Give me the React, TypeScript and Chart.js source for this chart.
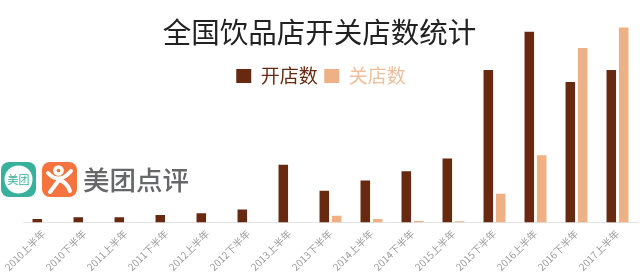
import React, { useEffect, useRef } from "react";
import { Chart, registerables } from "chart.js";

Chart.register(...registerables);

const categories = ["2010上半年","2010下半年","2011上半年","2011下半年","2012上半年","2012下半年","2013上半年","2013下半年","2014上半年","2014下半年","2015上半年","2015下半年","2016上半年","2016下半年","2017上半年"];
const openedStores = [3.6,5.3,5.3,7.5,9.3,13,57.7,31.7,42,51,63.7,152,190,140,152];
const closedStores = [0,0,0,0,0,0,0,6.7,3.7,1.5,1.3,28.7,67,173.7,194.3];
const titleText = "全国饮品店开关店数统计";
const openLabel = "开店数";
const closedLabel = "关店数";
const logoText = "美团点评";
const logoBadge = "美团";

const DARK = "#67290f";
const LIGHT = "#efb184";
const CJK = '"Noto Sans CJK SC", "Noto Sans", sans-serif';
const LEGEND_TOP = 60;
const TITLE_TOP = 15;

// The title and legend sit over the plot's upper band, so they are moved after layout.
const placeHeader = {
  id: "placeHeader",
  afterLayout(chart: any) {
    const l = chart.legend;
    const lh = l.height;
    l.top = LEGEND_TOP;
    l.bottom = LEGEND_TOP + lh;
    l.left = 1;
    l.right = 641;
    const t = chart.titleBlock;
    const th = t.height;
    t.top = TITLE_TOP;
    t.bottom = TITLE_TOP + th;
    t.left = 0;
    t.right = 639;
  },
};

const logo = {
  id: "logo",
  afterDraw(chart: any) {
    const c = chart.ctx as CanvasRenderingContext2D;
    c.save();
    c.fillStyle = "#38b09b";
    c.beginPath();
    c.roundRect(1, 162, 35, 35, 8);
    c.fill();
    c.fillStyle = "#ffffff";
    c.beginPath();
    c.arc(18.5, 179.5, 14, 0, Math.PI * 2);
    c.fill();
    c.fillStyle = "#38b09b";
    c.font = `11px ${CJK}`;
    c.textAlign = "center";
    c.textBaseline = "middle";
    c.fillText(logoBadge, 18.5, 180);

    c.fillStyle = "#f4733f";
    c.beginPath();
    c.roundRect(42, 162, 35, 35, 8);
    c.fill();
    c.strokeStyle = "#ffffff";
    c.lineWidth = 3.5;
    c.lineCap = "round";
    c.beginPath();
    c.arc(58.5, 170.5, 3.6, 0, Math.PI * 2);
    c.stroke();
    c.lineWidth = 4;
    c.beginPath();
    c.moveTo(48, 173);
    c.quadraticCurveTo(59, 185, 71, 171);
    c.stroke();
    c.beginPath();
    c.moveTo(59, 180);
    c.lineTo(50, 192);
    c.moveTo(59, 180);
    c.quadraticCurveTo(67, 182, 70, 191);
    c.stroke();

    c.fillStyle = "#66676a";
    c.font = `500 26.5px ${CJK}`;
    c.textAlign = "left";
    c.fillText(logoText, 83, 180);
    c.restore();
  },
};

export default function App() {
  const ref = useRef<HTMLCanvasElement>(null);
  useEffect(() => {
    document.body.style.margin = "0";
    const chart = new Chart(ref.current as HTMLCanvasElement, {
      type: "bar",
      data: {
        labels: categories,
        datasets: [
          { label: openLabel, data: openedStores, backgroundColor: DARK, barPercentage: 0.77, categoryPercentage: 0.605 },
          { label: closedLabel, data: closedStores, backgroundColor: LIGHT, barPercentage: 0.77, categoryPercentage: 0.605 },
        ],
      },
      options: {
        animation: false,
        responsive: false,
        layout: { padding: { left: 23, right: 2, top: -48, bottom: -2 } },
        plugins: {
          tooltip: { enabled: false },
          title: {
            display: true,
            text: titleText,
            color: "#222222",
            font: { family: CJK, size: 28.5, weight: "normal" },
            padding: 0,
          },
          legend: {
            position: "top",
            labels: {
              boxWidth: 15,
              boxHeight: 14,
              padding: 6.5,
              font: { family: CJK, size: 19 },
              generateLabels: () => [
                { text: openLabel, fillStyle: DARK, strokeStyle: DARK, lineWidth: 0, fontColor: DARK, datasetIndex: 0 },
                { text: closedLabel, fillStyle: LIGHT, strokeStyle: LIGHT, lineWidth: 0, fontColor: "#eebf9c", datasetIndex: 1 },
              ],
            },
          },
        },
        scales: {
          x: {
            grid: { display: false, drawTicks: false },
            border: { color: "#e3e3e3", width: 1 },
            ticks: { color: "#9a9a9a", font: { family: CJK, size: 10 }, minRotation: 45, maxRotation: 45, autoSkip: false, padding: 5 },
          },
          y: { display: false, min: 0, max: 200 },
        },
      },
      plugins: [placeHeader, logo],
    } as any);
    return () => chart.destroy();
  }, []);
  return (
    <div style={{ width: 640, height: 276, overflow: "hidden", background: "#fff" }}>
      <canvas ref={ref} width={640} height={276} style={{ display: "block" }} />
    </div>
  );
}
